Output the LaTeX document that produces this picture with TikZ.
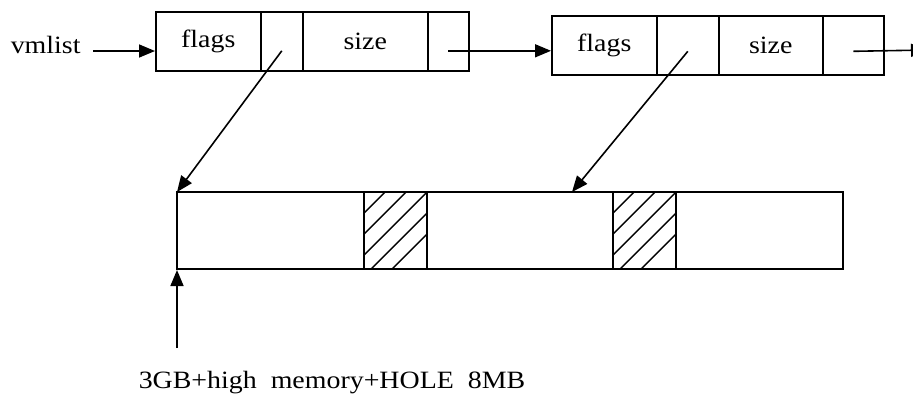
\documentclass[tikz,border=0pt]{standalone}
\usepackage{fontspec}
\setmainfont{Liberation Serif}[FakeStretch=1.12]
\usetikzlibrary{calc, arrows.meta, positioning}

\begin{document}
\begin{tikzpicture}[x=1bp, y=-1bp, line width=1.6bp,
    cell/.style={draw, minimum height=59bp, inner sep=0pt, anchor=north west, font=\fontsize{25}{27}\selectfont},
    link/.style={-{Triangle[length=16bp, width=13bp]}},
    txt/.style={inner sep=0pt, font=\fontsize{25}{27}\selectfont}]
        \useasboundingbox (0,0) rectangle (913,394);
        % first vm_struct
        \node[cell, minimum width=105bp] (flagsA) at (155,11) {flags};
        \node[cell, minimum width=42bp] (ptrA) at (260,11) {};
        \node[cell, minimum width=125bp] (sizeA) at (302,11) {size};
        \node[cell, minimum width=41bp] (nextA) at (427,11) {};
        % second vm_struct
        \node[cell, minimum width=105bp] (flagsB) at (551,15) {flags};
        \node[cell, minimum width=62bp] (ptrB) at (656,15) {};
        \node[cell, minimum width=104bp] (sizeB) at (718,15) {size};
        \node[cell, minimum width=61bp] (nextB) at (822,15) {};
        % address space
        \draw (177,192) rectangle (843,269);
        \coordinate (memA) at (177,192);
        \coordinate (memB) at (572,192);
        \coordinate (memstart) at (177,270);
        \foreach \hx in {364,613} {
          \draw (\hx,192) rectangle (\hx+63,269);
          \begin{scope}
            \clip (\hx,192) rectangle (\hx+63,269);
            \foreach \k in {1,...,6} {
              \draw[line width=1.4bp] (\hx+\k*21-98,269) -- (\hx+\k*21-21,192);
            }
          \end{scope}
        }
        % labels
        \node[txt, anchor=base west] (vmlist) at (10,53) {vmlist};
        \node[txt, anchor=base west] (start) at (138,388) {3GB+high\ \ memory+HOLE\ \ 8MB};
        \coordinate (startarrow) at (177,348);
        \coordinate (endB) at (927,50);
        % links
        \draw[link] (93,51) -- (flagsA.west |- 0,51);
        \draw[link] ([yshift=-9.5bp]nextA.center) -- ([yshift=-9.5bp]nextA.center -| flagsB.west);
        \draw[link] ([yshift=-6bp]nextB.center) -- (endB);
        \draw[link] ([yshift=-9.5bp]ptrA.center) -- (memA);
        \draw[link] ([yshift=-6bp]ptrB.center) -- (memB);
        \draw[link] (startarrow) -- (memstart);
      \end{tikzpicture}
\end{document}
